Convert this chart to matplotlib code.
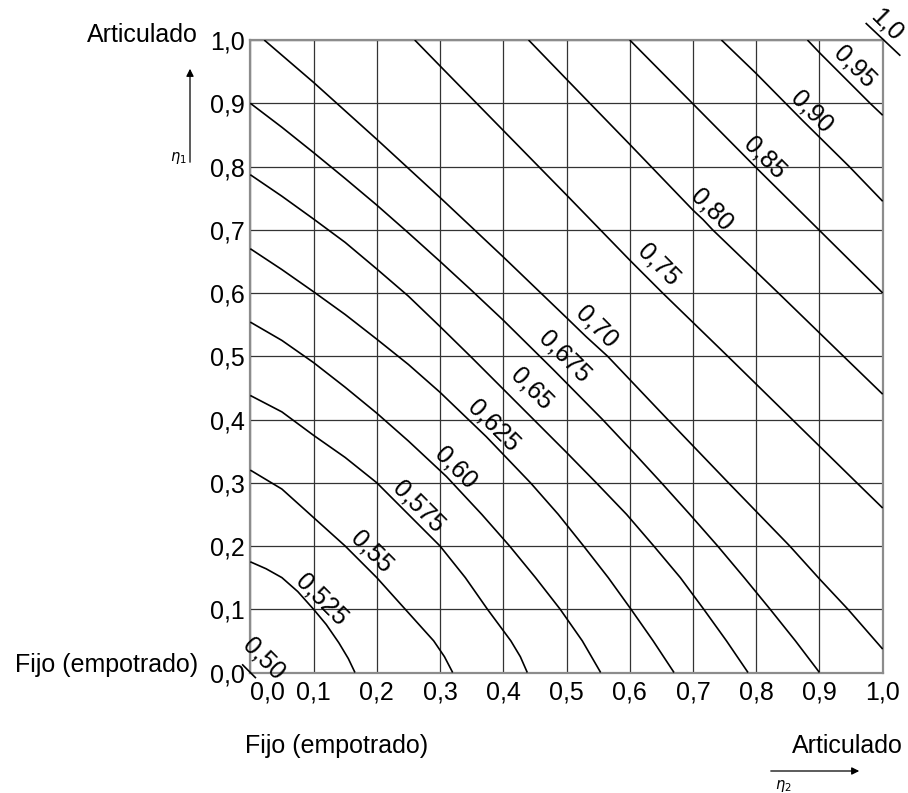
import matplotlib
matplotlib.use("Agg")
import matplotlib.pyplot as plt
from matplotlib.patches import FancyArrowPatch

plt.rcParams['font.family'] = ['Liberation Sans', 'DejaVu Sans']

# Effective length ratio curves (eta2 on x, eta1 on y), one pair of lists per level
k525_x = [0.0, 0.025, 0.05, 0.075, 0.1, 0.12, 0.14, 0.155, 0.1655]
k525_y = [0.175, 0.164, 0.15, 0.128, 0.1, 0.076, 0.047, 0.022, 0.0]

k55_x = [0.0, 0.05, 0.1, 0.15, 0.175, 0.2, 0.245, 0.29, 0.307, 0.32]
k55_y = [0.32, 0.29, 0.245, 0.2, 0.175, 0.15, 0.1, 0.05, 0.025, 0.0]

k575_x = [0.0, 0.05, 0.1, 0.15, 0.2, 0.25, 0.3, 0.34, 0.375, 0.412, 0.427, 0.438]
k575_y = [0.438, 0.412, 0.375, 0.34, 0.3, 0.25, 0.2, 0.15, 0.1, 0.05, 0.025, 0.0]

k60_x = [0.0, 0.05, 0.1, 0.15, 0.2, 0.25, 0.31, 0.366, 0.41, 0.451, 0.49, 0.525, 0.554]
k60_y = [0.554, 0.525, 0.49, 0.451, 0.41, 0.366, 0.31, 0.25, 0.2, 0.15, 0.1, 0.05, 0.0]

k625_x = [0.0, 0.05, 0.1, 0.15, 0.2, 0.25, 0.3, 0.373, 0.443, 0.487, 0.527, 0.566, 0.602, 0.637, 0.67]
k625_y = [0.67, 0.637, 0.602, 0.566, 0.527, 0.487, 0.443, 0.373, 0.3, 0.25, 0.2, 0.15, 0.1, 0.05, 0.0]

k65_x = [0.0, 0.05, 0.1, 0.15, 0.2, 0.25, 0.3, 0.35, 0.424, 0.498, 0.547, 0.595, 0.638, 0.68, 0.717, 0.753, 0.787]
k65_y = [0.787, 0.753, 0.717, 0.68, 0.638, 0.595, 0.547, 0.498, 0.424, 0.35, 0.3, 0.25, 0.2, 0.15, 0.1, 0.05, 0.0]

k675_x = [0.0, 0.05, 0.1, 0.15, 0.2, 0.25, 0.3, 0.35, 0.4, 0.479, 0.557, 0.604, 0.65, 0.695, 0.739, 0.781, 0.822, 0.862, 0.9]
k675_y = [0.9, 0.862, 0.822, 0.781, 0.739, 0.695, 0.65, 0.604, 0.557, 0.479, 0.4, 0.35, 0.3, 0.25, 0.2, 0.15, 0.1, 0.05, 0.0]

k70_x = [0.022, 0.1, 0.2, 0.3, 0.4, 0.5, 0.531, 0.565, 0.66, 0.756, 0.853, 0.9, 0.945, 1.0]
k70_y = [1.0, 0.933, 0.843, 0.751, 0.657, 0.561, 0.531, 0.5, 0.4, 0.3, 0.2, 0.148, 0.1, 0.037]

k75_x = [0.26, 0.3, 0.4, 0.5, 0.6, 0.626, 0.652, 0.755, 0.857, 0.959, 1.0]
k75_y = [1.0, 0.959, 0.857, 0.755, 0.652, 0.626, 0.6, 0.5, 0.4, 0.3, 0.26]

k80_x = [0.44, 0.5, 0.6, 0.7, 0.716, 0.731, 0.835, 0.938, 1.0]
k80_y = [1.0, 0.938, 0.835, 0.731, 0.716, 0.7, 0.6, 0.5, 0.44]

k85_x = [0.6, 0.7, 0.799, 0.899, 1.0]
k85_y = [1.0, 0.899, 0.799, 0.7, 0.6]

k90_x = [0.745, 0.8, 0.873, 0.947, 1.0]
k90_y = [1.0, 0.947, 0.873, 0.8, 0.745]

k95_x = [0.881, 0.9, 0.94, 0.98, 1.0]
k95_y = [1.0, 0.98, 0.94, 0.9, 0.881]

curves = [(k525_x, k525_y), (k55_x, k55_y), (k575_x, k575_y), (k60_x, k60_y),
          (k625_x, k625_y), (k65_x, k65_y), (k675_x, k675_y), (k70_x, k70_y),
          (k75_x, k75_y), (k80_x, k80_y), (k85_x, k85_y), (k90_x, k90_y),
          (k95_x, k95_y)]

# Curve labels and where they sit along each curve
level_labels = ["0,50", "0,525", "0,55", "0,575", "0,60", "0,625", "0,65", "0,675",
                "0,70", "0,75", "0,80", "0,85", "0,90", "0,95", "1,0"]
label_x = [0.021, 0.113, 0.192, 0.266, 0.324, 0.384, 0.445, 0.4975,
           0.548, 0.645, 0.729, 0.814, 0.888, 0.956, 1.007]
label_y = [0.022, 0.115, 0.191, 0.262, 0.323, 0.391, 0.449, 0.499,
           0.547, 0.644, 0.731, 0.813, 0.887, 0.958, 1.024]

tick_values = [0.0, 0.1, 0.2, 0.3, 0.4, 0.5, 0.6, 0.7, 0.8, 0.9, 1.0]
tick_labels = ["0,0", "0,1", "0,2", "0,3", "0,4", "0,5", "0,6", "0,7", "0,8", "0,9", "1,0"]

W, H = 908, 793
FS = 18

fig = plt.figure(figsize=(W / 100, H / 100), dpi=100)
ax = fig.add_axes([250.3 / W, 1 - 672.5 / H, 632.4 / W, 632.5 / H])
ax.set_xlim(0, 1)
ax.set_ylim(0, 1)
ax.set_xticks(tick_values)
ax.set_yticks(tick_values)
ax.set_xticklabels(tick_labels, fontsize=FS)
ax.set_yticklabels(tick_labels, fontsize=FS)
ax.tick_params(length=0, pad=4)
ax.tick_params(axis='x', pad=6)
ax.get_xticklabels()[0].set_horizontalalignment('left')
ax.grid(True, color='#333333', lw=0.9)
ax.set_axisbelow(True)
for s in ax.spines.values():
    s.set_color('#8c8c8c')
    s.set_linewidth(1.6)

for cx, cy in curves:
    ax.plot(cx, cy, color='black', lw=1.2, solid_capstyle='butt', zorder=3)

# Corner marks for the 0,50 and 1,0 values
ax.plot([-0.012, 0.008], [0.012, -0.008], color='black', lw=1.2, clip_on=False, zorder=3)
ax.plot([0.974, 1.027], [1.026, 0.976], color='black', lw=1.2, clip_on=False, zorder=3)

for t, lx, ly in zip(level_labels, label_x, label_y):
    ax.text(lx, ly, t, fontsize=FS, rotation=-45, rotation_mode='anchor',
            ha='center', va='center', zorder=4, clip_on=False)


def ftext(px, py, s, **kw):
    fig.text(px / W, 1 - py / H, s, **kw)


ftext(198, 35, "Articulado", fontsize=FS, ha='right', va='center')
ftext(198, 665, "Fijo (empotrado)", fontsize=FS, ha='right', va='center')
ftext(245, 746, "Fijo (empotrado)", fontsize=FS, ha='left', va='center')
ftext(903, 746, "Articulado", fontsize=FS, ha='right', va='center')

# Direction arrows for eta1 and eta2
fig.add_artist(FancyArrowPatch(
    (190 / W, 1 - 165 / H), (190 / W, 1 - 66 / H), transform=fig.transFigure,
    arrowstyle='-|>', mutation_scale=11, lw=0.9, color='black'))
fig.add_artist(FancyArrowPatch(
    (768 / W, 1 - 771 / H), (862 / W, 1 - 771 / H), transform=fig.transFigure,
    arrowstyle='-|>', mutation_scale=11, lw=0.9, color='black'))
ftext(178, 158, r"$\eta_1$", fontsize=10.5, ha='center', va='center')
ftext(783, 786, r"$\eta_2$", fontsize=10.5, ha='center', va='center')

fig.savefig("out.png", dpi=100)
